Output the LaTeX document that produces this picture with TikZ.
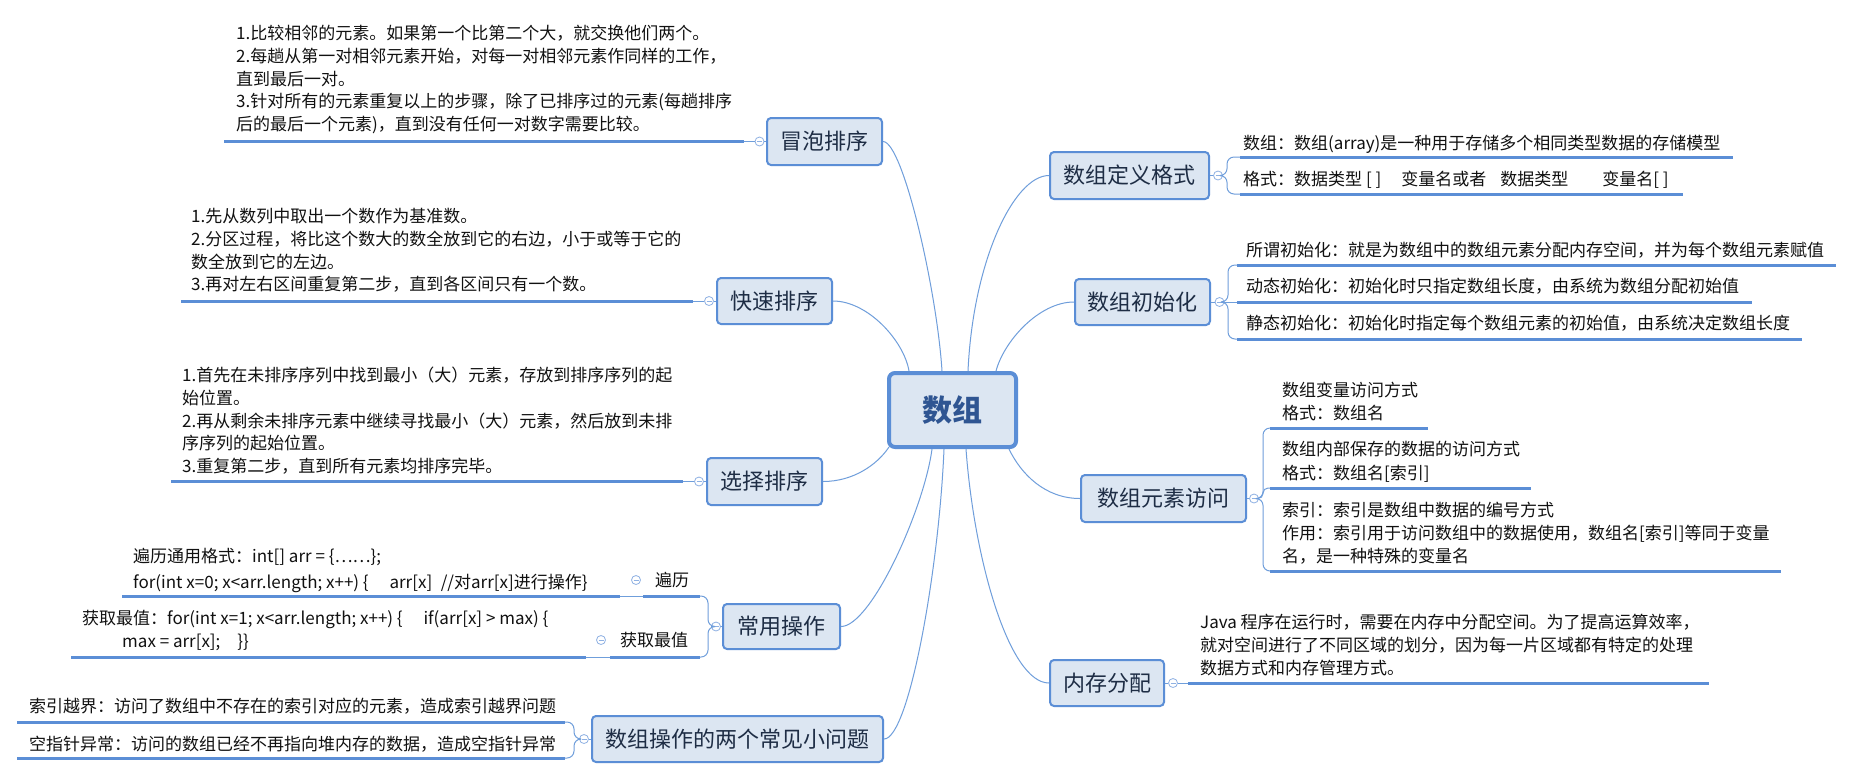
\documentclass[tikz,border=0pt]{standalone}
\usepackage{fontspec}
\setmainfont{Noto Sans CJK SC}
\newfontfamily\cjk{Noto Sans CJK SC}
\definecolor{bdr}{HTML}{5B8ED6}
\definecolor{boxfill}{HTML}{DCE6F2}
\definecolor{ucol}{HTML}{5B8ED6}
\definecolor{ccol}{HTML}{6F9EDB}
\definecolor{foldcol}{HTML}{8FB1E3}
\definecolor{nodetext}{HTML}{1E2D45}
\definecolor{roottext}{HTML}{2F5592}
\definecolor{leaftext}{HTML}{111111}
\newcommand\fstrut{\rule{0pt}{16pt}}
\begin{document}
\begin{tikzpicture}[x=1pt,y=-1pt,
  mainbox/.style={draw=bdr, line width=2pt, fill=boxfill, rounded corners=4pt, inner sep=0pt,
    text=nodetext, font=\cjk\fontsize{22}{26}\selectfont},
  rootbox/.style={draw=bdr, line width=4pt, fill=boxfill, rounded corners=6pt, inner sep=0pt,
    text=roottext, font=\cjk\bfseries\fontsize{30}{34}\selectfont},
  leaf/.style={anchor=north west, inner sep=0pt, align=left, text=leaftext,
    font=\cjk\fontsize{17}{22.7}\selectfont},
  uline/.style={draw=ucol, line width=3pt},
  conn/.style={draw=ccol, line width=1pt},
  fold/.style={circle, draw=foldcol, line width=0.8pt, fill=white, minimum size=9pt, inner sep=0pt,
    path picture={\draw[foldcol, line width=0.8pt] ([xshift=-2.5pt]path picture bounding box.center) -- ([xshift=2.5pt]path picture bounding box.center);}},
]
\fill[white] (0,0) rectangle (1854,780);
\useasboundingbox (0,0) rectangle (1854,780);

% ---------- root ----------
\node[rootbox, minimum width=127pt, minimum height=74pt] (root) at (952.5,410) {数组};

% ---------- main topics ----------
\node[mainbox, minimum width=115pt, minimum height=47pt] (bubble) at (824.5,141.5) {冒泡排序};
\node[mainbox, minimum width=115pt, minimum height=46pt] (quick) at (774.5,301) {快速排序};
\node[mainbox, minimum width=115pt, minimum height=47pt] (select) at (764.5,481.5) {选择排序};
\node[mainbox, minimum width=117pt, minimum height=45pt] (ops) at (781.5,626.5) {常用操作};
\node[mainbox, minimum width=291pt, minimum height=46pt] (probs) at (737.5,739) {数组操作的两个常见小问题};
\node[mainbox, minimum width=159pt, minimum height=47pt] (def) at (1129.5,175.5) {数组定义格式};
\node[mainbox, minimum width=135pt, minimum height=46pt] (init) at (1142.5,302) {数组初始化};
\node[mainbox, minimum width=165pt, minimum height=47pt] (access) at (1163.5,498.5) {数组元素访问};
\node[mainbox, minimum width=114pt, minimum height=46pt] (mem) at (1107,683) {内存分配};

% ---------- root connectors ----------
\draw[conn] ([xshift=-10.5pt]root.north) .. controls +(-5,-80) and +(20,0) .. (bubble.east);
\draw[conn] ([xshift=-43.5pt]root.north) .. controls +(-5,-30) and +(35,0) .. (quick.east);
\draw[conn] ([xshift=2pt,yshift=2pt]root.south west) .. controls +(-12,18) and +(30,0) .. (select.east);
\draw[conn] ([xshift=-20.5pt]root.south) .. controls +(-8,60) and +(30,0) .. (ops.east);
\draw[conn] ([xshift=-8.5pt]root.south) .. controls +(-5,120) and +(25,0) .. (probs.east);
\draw[conn] ([xshift=15.5pt]root.north) .. controls +(5,-110) and +(-35,0) .. (def.west);
\draw[conn] ([xshift=43.5pt]root.north) .. controls +(8,-30) and +(-35,0) .. (init.west);
\draw[conn] ([xshift=-9pt]root.south east) .. controls +(12,25) and +(-35,0) .. (access.west);
\draw[conn] ([xshift=13.5pt]root.south) .. controls +(8,110) and +(-40,0) .. (mem.west);

% ---------- 冒泡排序 ----------
\node[leaf] (lbubble) at (236,23.5) {\fstrut 1.比较相邻的元素。如果第一个比第二个大，就交换他们两个。\\
2.每趟从第一对相邻元素开始，对每一对相邻元素作同样的工作，\\
直到最后一对。\\
3.针对所有的元素重复以上的步骤，除了已排序过的元素(每趟排序\\
后的最后一个元素)，直到没有任何一对数字需要比较。};
\coordinate (ububble) at (744,141.5);
\draw[uline] (224,141.5) -- (ububble);
\node[fold] (fbubble) at (759.5,141.5) {};
\draw[conn] (bubble.west) -- (fbubble.east);
\draw[conn] (fbubble.west) -- (ububble);

% ---------- 快速排序 ----------
\node[leaf] (lquick) at (191,206.5) {\fstrut 1.先从数列中取出一个数作为基准数。\\
2.分区过程，将比这个数大的数全放到它的右边，小于或等于它的\\
数全放到它的左边。\\
3.再对左右区间重复第二步，直到各区间只有一个数。};
\coordinate (uquick) at (693,301);
\draw[uline] (181,301) -- (uquick);
\node[fold] (fquick) at (709,301) {};
\draw[conn] (quick.west) -- (fquick.east);
\draw[conn] (fquick.west) -- (uquick);

% ---------- 选择排序 ----------
\node[leaf] (lselect) at (182,365.5) {\fstrut 1.首先在未排序序列中找到最小（大）元素，存放到排序序列的起\\
始位置。\\
2.再从剩余未排序元素中继续寻找最小（大）元素，然后放到未排\\
序序列的起始位置。\\
3.重复第二步，直到所有元素均排序完毕。};
\coordinate (uselect) at (683,481.5);
\draw[uline] (171,481.5) -- (uselect);
\node[fold] (fselect) at (699,481.5) {};
\draw[conn] (select.west) -- (fselect.east);
\draw[conn] (fselect.west) -- (uselect);

% ---------- 常用操作 ----------
\node[fold] (fops) at (716,626.5) {};
\draw[conn] (ops.west) -- (fops.east);
\coordinate (bend) at (708,626.5);
\coordinate (ubl) at (700,596);
\coordinate (uzz) at (700,657);
\draw[conn, rounded corners=7pt] (fops.west) -- (bend) |- (ubl);
\draw[conn, rounded corners=7pt] (fops.west) -- (bend) |- (uzz);
% 遍历
\node[leaf] (tbl) at (655,570.5) {\fstrut 遍历};
\node[fold] (fbl) at (636,580) {};
\coordinate (ublL) at (643,596);
\draw[uline] (ublL) -- (ubl);
\node[leaf] (lbl) at (133,546.5) {\fstrut 遍历通用格式：int[] arr = \{……\};\\[3.3pt]
for(int x=0; x<arr.length; x++) \{\quad\ arr[x]\enspace //对arr[x]进行操作\}};
\coordinate (ublleaf) at (620,596);
\draw[uline] (122,596) -- (ublleaf);
\draw[conn] (ublleaf) -- (ublL);
% 获取最值
\node[leaf] (tzz) at (620,630.5) {\fstrut 获取最值};
\node[fold] (fzz) at (601,640) {};
\coordinate (uzzL) at (610,657);
\draw[uline] (uzzL) -- (uzz);
\node[leaf] (lzz) at (82,608.5) {\fstrut 获取最值：for(int x=1; x<arr.length; x++) \{\quad\ if(arr[x] > max) \{\\
\hspace*{40pt}max = arr[x];\quad \}\}};
\coordinate (uzzleaf) at (586,657);
\draw[uline] (71,657) -- (uzzleaf);
\draw[conn] (uzzleaf) -- (uzzL);

% ---------- 数组操作的两个常见小问题 ----------
\node[fold] (fprobs) at (584,739) {};
\draw[conn] (probs.west) -- (fprobs.east);
\coordinate (pbend) at (574,739);
\coordinate (up1) at (565,722);
\coordinate (up2) at (565,758);
\draw[conn, rounded corners=7pt] (fprobs.west) -- (pbend) |- (up1);
\draw[conn, rounded corners=7pt] (fprobs.west) -- (pbend) |- (up2);
\node[leaf] (lp1) at (29,696.5) {\fstrut 索引越界：访问了数组中不存在的索引对应的元素，造成索引越界问题};
\draw[uline] (17,722) -- (up1);
\node[leaf] (lp2) at (29,734.5) {\fstrut 空指针异常：访问的数组已经不再指向堆内存的数据，造成空指针异常};
\draw[uline] (17,758) -- (up2);

% ---------- 数组定义格式 ----------
\node[fold] (fdef) at (1218,175.5) {};
\draw[conn] (def.east) -- (fdef.west);
\coordinate (dbend) at (1227,175.5);
\coordinate (ud1) at (1240,157);
\coordinate (ud2) at (1240,194);
\draw[conn, rounded corners=7pt] (fdef.east) -- (dbend) |- (ud1);
\draw[conn, rounded corners=7pt] (fdef.east) -- (dbend) |- (ud2);
\node[leaf] (ld1) at (1243,133.5) {\fstrut 数组：数组(array)是一种用于存储多个相同类型数据的存储模型};
\draw[uline] (ud1) -- (1733,157);
\node[leaf] (ld2) at (1243,169.5) {\fstrut 格式：数据类型 [ ]\hspace{20pt}变量名或者\hspace{14pt}数据类型\hspace{34pt}变量名[ ]};
\draw[uline] (ud2) -- (1683,194);

% ---------- 数组初始化 ----------
\node[fold] (finit) at (1219.5,302) {};
\draw[conn] (init.east) -- (finit.west);
\coordinate (ibend) at (1228,302);
\coordinate (ui1) at (1237,265);
\coordinate (ui2) at (1237,302);
\coordinate (ui3) at (1237,339);
\draw[conn, rounded corners=7pt] (finit.east) -- (ibend) |- (ui1);
\draw[conn] (finit.east) -- (ui2);
\draw[conn, rounded corners=7pt] (finit.east) -- (ibend) |- (ui3);
\node[leaf] (li1) at (1246,240.5) {\fstrut 所谓初始化：就是为数组中的数组元素分配内存空间，并为每个数组元素赋值};
\draw[uline] (ui1) -- (1836,265);
\node[leaf] (li2) at (1246,276.5) {\fstrut 动态初始化：初始化时只指定数组长度，由系统为数组分配初始值};
\draw[uline] (ui2) -- (1752,302);
\node[leaf] (li3) at (1246,313.5) {\fstrut 静态初始化：初始化时指定每个数组元素的初始值，由系统决定数组长度};
\draw[uline] (ui3) -- (1802,339);

% ---------- 数组元素访问 ----------
\node[fold] (facc) at (1254,498.5) {};
\draw[conn] (access.east) -- (facc.west);
\coordinate (abend) at (1263,498.5);
\coordinate (ua1) at (1270,428);
\coordinate (ua2) at (1270,488);
\coordinate (ua3) at (1270,571);
\draw[conn, rounded corners=7pt] (facc.east) -- (abend) |- (ua1);
\draw[conn, rounded corners=5pt] (facc.east) -- (abend) |- (ua2);
\draw[conn, rounded corners=7pt] (facc.east) -- (abend) |- (ua3);
\node[leaf] (la1) at (1282,380.5) {\fstrut 数组变量访问方式\\[0.3pt]
格式：数组名};
\draw[uline] (ua1) -- (1428,428);
\node[leaf] (la2) at (1282,439.5) {\fstrut 数组内部保存的数据的访问方式\\[1.3pt]
格式：数组名[索引]};
\draw[uline] (ua2) -- (1531,488);
\node[leaf] (la3) at (1282,500.5) {\fstrut 索引：索引是数组中数据的编号方式\\
作用：索引用于访问数组中的数据使用，数组名[索引]等同于变量\\
名，是一种特殊的变量名};
\draw[uline] (ua3) -- (1781,571);

% ---------- 内存分配 ----------
\node[fold] (fmem) at (1173,683) {};
\draw[conn] (mem.east) -- (fmem.west);
\coordinate (um) at (1188,683);
\draw[conn] (fmem.east) -- (um);
\node[leaf] (lm) at (1200,612.5) {\fstrut Java 程序在运行时，需要在内存中分配空间。为了提高运算效率，\\
就对空间进行了不同区域的划分，因为每一片区域都有特定的处理\\
数据方式和内存管理方式。};
\draw[uline] (um) -- (1709,683);
\end{tikzpicture}
\end{document}
